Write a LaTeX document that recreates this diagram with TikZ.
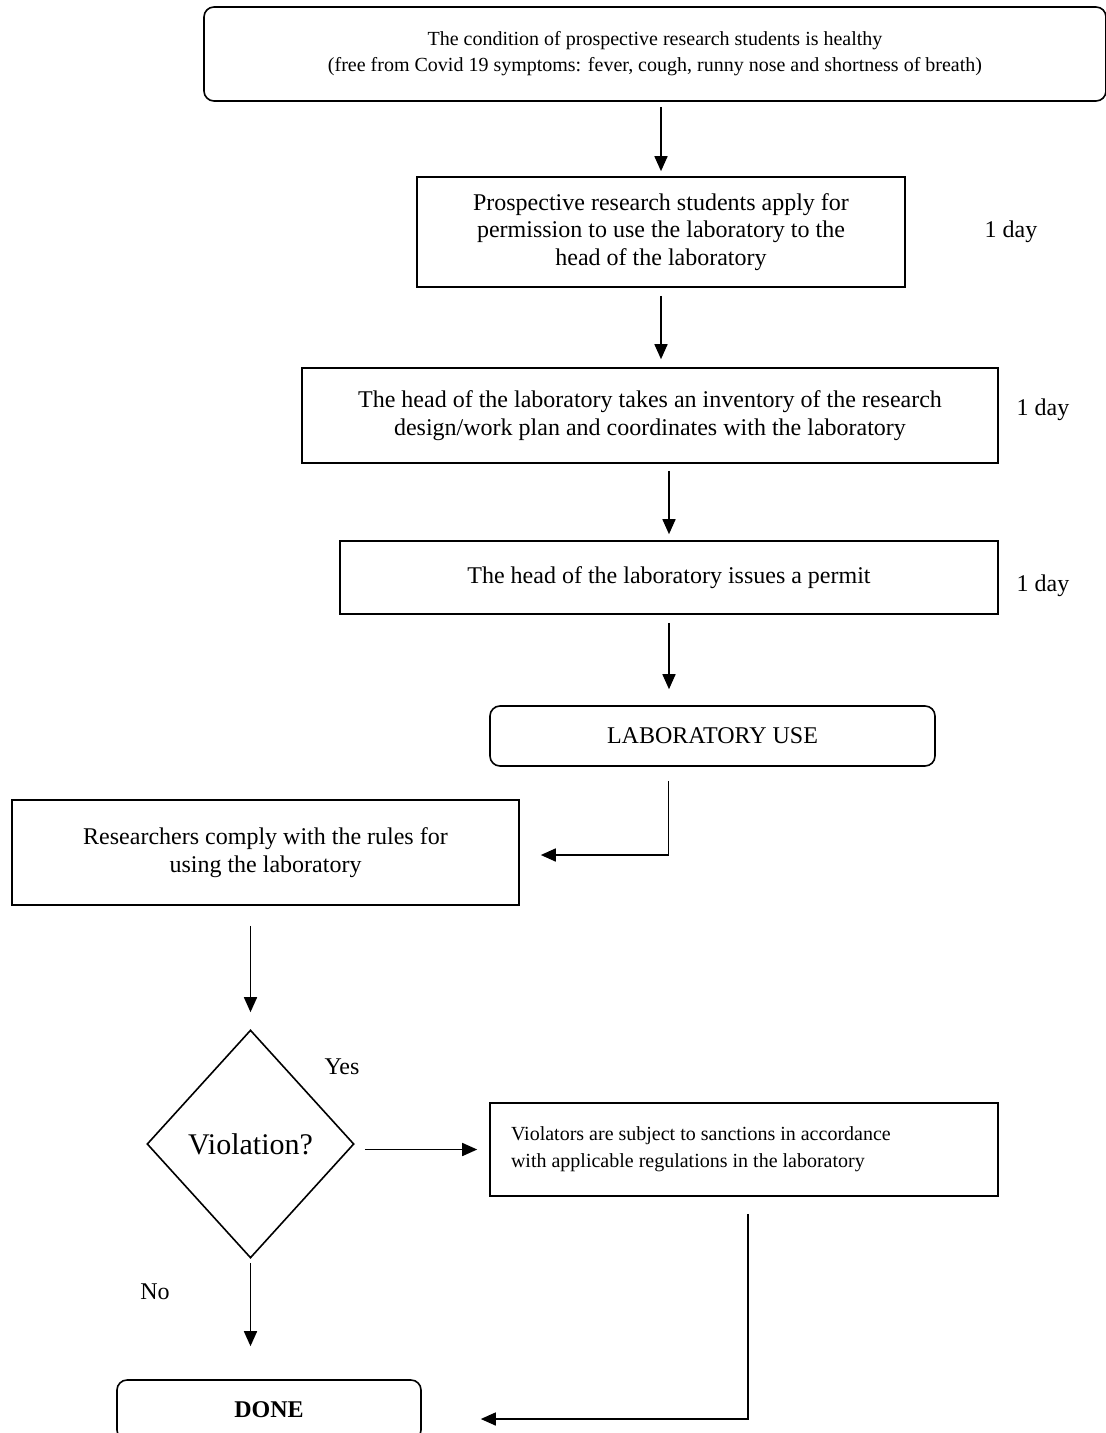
\documentclass[tikz,border=0pt]{standalone}
\usepackage{fontspec}
\setmainfont{Liberation Serif}
\usepackage{tikz}
\usetikzlibrary{arrows.meta}
\usetikzlibrary{shapes.geometric}

\begin{document}
\begin{tikzpicture}[x=0.5pt,y=-0.5pt,
        box/.style = {draw, line width=0.8pt, inner sep=0pt, align=center, font=\fontsize{12}{13.8}\selectfont},
        rbox/.style = {box, rounded corners=5pt},
        arr/.style = {line width=0.8pt, -{Triangle[length=7.5pt,width=6.5pt]}},
        lbl/.style = {inner sep=0pt, font=\fontsize{12}{14}\selectfont}]
        \useasboundingbox (0,0) rectangle (1106,1433);
        \node[rbox, minimum width=451pt, minimum height=47pt, font=\fontsize{10}{13}\selectfont] (cond) at (655,54)
            {The condition of prospective research students is healthy\\(free from Covid 19 symptoms: fever, cough, runny nose and shortness of breath)};
        \node[box, minimum width=244pt, minimum height=55pt] (apply) at (661,232)
            {Prospective research students apply for\\permission to use the laboratory to the\\head of the laboratory};
        \node[box, minimum width=348pt, minimum height=47.5pt] (inv) at (650,415.5)
            {The head of the laboratory takes an inventory of the research\\design/work plan and coordinates with the laboratory};
        \node[box, minimum width=329pt, minimum height=36.5pt] (permit) at (669,577.5)
            {The head of the laboratory issues a permit};
        \node[rbox, minimum width=222.5pt, minimum height=30pt] (use) at (712.5,736) {LABORATORY USE};
        \node[box, minimum width=253.5pt, minimum height=52.5pt] (comply) at (265.5,852.5)
            {Researchers comply with the rules for\\using the laboratory};
        \node[box, diamond, minimum width=103.5pt, minimum height=114pt, font=\fontsize{15}{18}\selectfont] (viol) at (250.5,1144) {Violation?};
        \node[box, align=flush left, minimum width=254pt, minimum height=46.5pt, text width=233pt, font=\fontsize{10}{13.5}\selectfont] (sanc) at (744,1149.5)
            {Violators are subject to sanctions in accordance\\with applicable regulations in the laboratory};
        \node[rbox, minimum width=152pt, minimum height=30pt, font=\bfseries\fontsize{12}{14}\selectfont] (done) at (269,1410) {DONE};

        \node[lbl] (day1) at (1011,232) {1 day};
        \node[lbl] (day2) at (1043,410) {1 day};
        \node[lbl] (day3) at (1043,586) {1 day};
        \node[lbl] (yes) at (342,1067) {Yes};
        \node[lbl] (no) at (155,1292) {No};

        \draw[arr, shorten <=2.5pt, shorten >=2.5pt] (cond.south -| apply.north)--(apply.north);
        \draw[arr, shorten <=4pt, shorten >=4pt] (apply.south)--(apply.south |- inv.north);
        \draw[arr, shorten <=3.5pt, shorten >=3pt] (inv.south -| permit.north)--(permit.north);
        \draw[arr, shorten <=4pt, shorten >=8pt] (permit.south)--(permit.south |- use.north);
        \draw[arr, shorten <=7pt, shorten >=10.5pt] ([xshift=-22pt]use.south) |- ([yshift=-1.25pt]comply.east);
        \draw[arr, shorten <=10pt, shorten >=8.5pt] (comply.south -| viol.north)--(viol.north);
        \draw[arr, shorten <=5pt, shorten >=6pt] (viol.east |- sanc.west)--(sanc.west);
        \draw[arr, shorten <=2pt, shorten >=16.5pt] (viol.south)--(viol.south |- done.north);
        \draw[arr, shorten <=8.5pt, shorten >=29.5pt] ([xshift=2pt]sanc.south) |- ([yshift=-4.5pt]done.east);
\end{tikzpicture}
\end{document}
